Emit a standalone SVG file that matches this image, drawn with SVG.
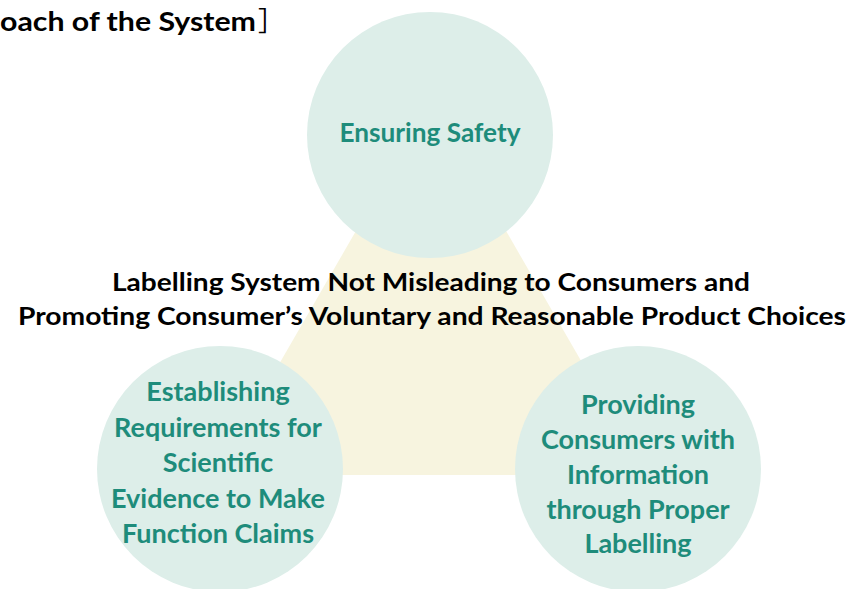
<svg xmlns="http://www.w3.org/2000/svg" width="849" height="589" viewBox="0 0 849 589">
<style>
.c{fill:#DDEEE9;}
.t{font-family:Lato,"Open Sans","Liberation Sans",sans-serif;font-weight:bold;}
.n{fill:#1E8C7B;font-size:27px;text-anchor:middle;}
.k{fill:#000;font-size:25px;text-anchor:middle;}
</style>
<rect width="849" height="589" fill="#fff"/>
<text class="t" y="31" font-size="27" fill="#000"><tspan x="0" textLength="256" lengthAdjust="spacingAndGlyphs">oach of the System</tspan><tspan x="258" font-family="'Noto Sans CJK JP',sans-serif" font-weight="normal">］</tspan></text>
<g id="base">
<polygon points="431,101 215,475 647,475" fill="#F7F4DF"/>
</g>
<g id="connectors"></g>
<g id="safety">
<circle class="c" cx="430" cy="135" r="123"/>
<text class="t n" x="430" y="142" font-size="24" textLength="181" lengthAdjust="spacingAndGlyphs">Ensuring Safety</text>
</g>
<g id="evidence">
<circle class="c" cx="220" cy="469" r="123"/>
<text class="t n" x="218" y="401">Establishing</text>
<text class="t n" x="218" y="437">Requirements for</text>
<text class="t n" x="218" y="472">Scientific</text>
<text class="t n" x="218" y="508">Evidence to Make</text>
<text class="t n" x="218" y="543">Function Claims</text>
</g>
<g id="information">
<circle class="c" cx="638" cy="469" r="123"/>
<text class="t n" x="638" y="414">Providing</text>
<text class="t n" x="638" y="449">Consumers with</text>
<text class="t n" x="638" y="484">Information</text>
<text class="t n" x="638" y="519">through Proper</text>
<text class="t n" x="638" y="553">Labelling</text>
</g>
<g id="center">
<text class="t k" x="431" y="291" textLength="638" lengthAdjust="spacingAndGlyphs">Labelling System Not Misleading to Consumers and</text>
<text class="t k" x="432" y="325" textLength="828" lengthAdjust="spacingAndGlyphs">Promoting Consumer’s Voluntary and Reasonable Product Choices</text>
</g>
</svg>
